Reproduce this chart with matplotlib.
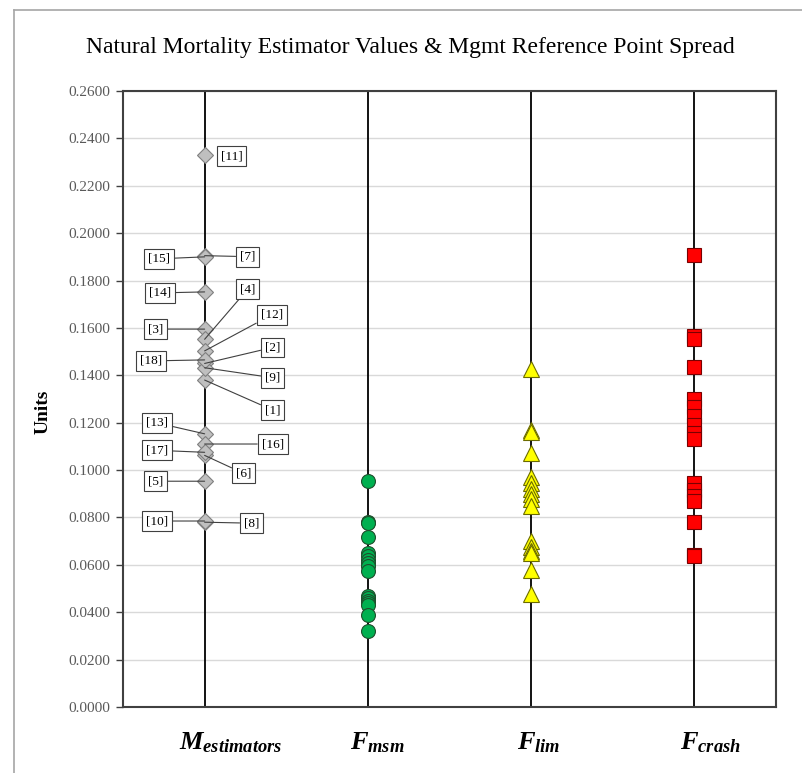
import matplotlib
matplotlib.use("Agg")
import matplotlib.pyplot as plt
from matplotlib.lines import Line2D

# ---- data ----
categories = ["M", "Fmsm", "Flim", "Fcrash"]
cat_labels = [r"$M_{estimators}$", r"$F_{msm}$", r"$F_{lim}$", r"$F_{crash}$"]

m_ids = ["[1]", "[2]", "[3]", "[4]", "[5]", "[6]", "[7]", "[8]", "[9]",
         "[10]", "[11]", "[12]", "[13]", "[14]", "[15]", "[16]", "[17]", "[18]"]
m_values = [0.1380, 0.1450, 0.1595, 0.1552, 0.0953, 0.1062, 0.1905, 0.0780, 0.1432,
            0.0785, 0.2328, 0.1503, 0.1153, 0.1752, 0.1900, 0.1110, 0.1075, 0.1465]

f_msm = [0.0955, 0.0782, 0.0778, 0.0718, 0.0650, 0.0638, 0.0622, 0.0608, 0.0596,
         0.0574, 0.0470, 0.0460, 0.0448, 0.0438, 0.0430, 0.0390, 0.0320]
f_lim = [0.1425, 0.1170, 0.1160, 0.1070, 0.0970, 0.0945, 0.0920, 0.0900, 0.0880,
         0.0850, 0.0700, 0.0675, 0.0660, 0.0650, 0.0580, 0.0475]
f_crash = [0.1907, 0.1564, 0.1554, 0.1434, 0.1300, 0.1266, 0.1227, 0.1190, 0.1155,
           0.1131, 0.0945, 0.0915, 0.0890, 0.0868, 0.0779, 0.0640, 0.0636]

y_ticks = [i * 0.02 for i in range(14)]

# label box offsets (pixels) from each M point
label_offsets = [(68, -30), (68, 16), (-49, 0), (43, 50), (-49, 0), (39, -18),
                 (43, -1), (47, -1), (68, -10), (-48, 0), (27, -1), (67, 36),
                 (-48, 11), (-45, -1), (-46, -2), (68, 0), (-48, 2), (-54, -1)]

plt.rcParams["mathtext.fontset"] = "custom"
plt.rcParams["mathtext.it"] = "Liberation Serif:bold:italic"
plt.rcParams["mathtext.rm"] = "Liberation Serif:bold"
plt.rcParams["mathtext.bf"] = "Liberation Serif:bold"

fig = plt.figure(figsize=(8.03, 7.73), dpi=100)
ax = fig.add_axes([123 / 803, 66 / 773, 653 / 803, 616 / 773])

xs = [0.5, 1.5, 2.5, 3.5]
ax.set_xlim(0, 4)
ax.set_ylim(0, 0.26)

# grid and column lines
for t in y_ticks[1:]:
    ax.axhline(t, color="#d9d9d9", lw=1.0, zorder=0)
for x in xs:
    ax.axvline(x, color="black", lw=1.3, zorder=1)

# markers
ax.plot([xs[0]] * len(m_values), m_values, ls="none", marker="D", ms=8.5,
        mfc="#bfbfbf", mec="#7f7f7f", mew=0.8, zorder=3)
ax.plot([xs[1]] * len(f_msm), f_msm, ls="none", marker="o", ms=10,
        mfc="#00b050", mec="#1f4e2c", mew=0.8, zorder=3)
ax.plot([xs[2]] * len(f_lim), f_lim, ls="none", marker="^", ms=11,
        mfc="#ffff00", mec="#6b6b00", mew=0.8, zorder=3)
ax.plot([xs[3]] * len(f_crash), f_crash, ls="none", marker="s", ms=10,
        mfc="#ff0000", mec="#7a0000", mew=0.8, zorder=3)

# estimator labels with leader lines
for lab, v, (dx, dy) in zip(m_ids, m_values, label_offsets):
    arrow = None if lab == "[11]" else dict(arrowstyle="-", color="#404040", lw=0.8,
                                             shrinkA=0, shrinkB=0)
    ax.annotate(lab, xy=(xs[0], v), xytext=(dx, dy), textcoords="offset pixels",
                ha="center", va="center", fontsize=9.5, family="Liberation Serif",
                bbox=dict(boxstyle="square,pad=0.3", fc="white", ec="#404040", lw=0.8),
                arrowprops=arrow, zorder=4)

# axes styling
ax.set_yticks(y_ticks)
ax.set_yticklabels([f"{t:.4f}" for t in y_ticks], family="Liberation Serif",
                   fontsize=11, color="#595959")
ax.tick_params(axis="y", direction="out", length=5, width=1, color="#404040", pad=4)
ax.set_xticks([])
for s in ax.spines.values():
    s.set_color("#404040")
    s.set_linewidth(1.5)

ax.set_ylabel("Units", family="Liberation Serif", fontweight="bold", fontsize=14)
ax.yaxis.set_label_coords(-0.11, 0.479)

# category labels
label_dx = [-0.155, -0.11, -0.086, -0.086]
for x, lab, d in zip(xs, cat_labels, label_dx):
    ax.text(x + d, -0.057, lab, transform=ax.get_xaxis_transform(), ha="left",
            va="center", fontsize=19)

fig.text(410 / 803, 1 - 48 / 773, "Natural Mortality Estimator Values & Mgmt Reference Point Spread",
         ha="center", va="center", family="Liberation Serif", fontsize=17)

# outer frame
fig.add_artist(Line2D([14 / 803, 1], [1 - 10 / 773, 1 - 10 / 773], color="#a6a6a6", lw=1.2))
fig.add_artist(Line2D([14 / 803, 14 / 803], [0, 1 - 10 / 773], color="#a6a6a6", lw=1.2))

fig.savefig("out.png", dpi=100)
